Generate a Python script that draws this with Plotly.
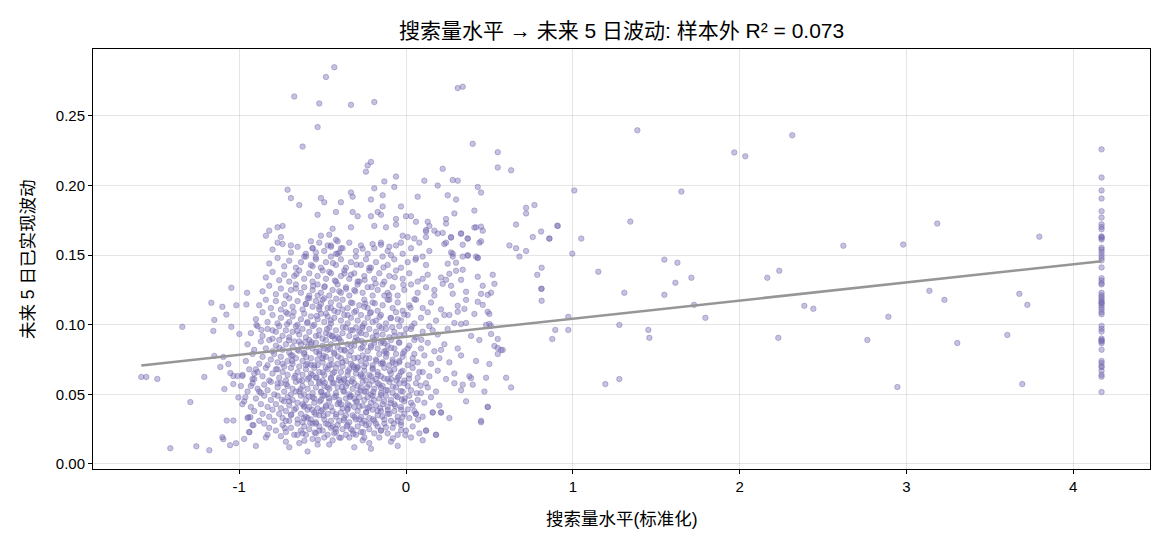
import plotly.graph_objects as go

# ---------------- data ----------------
# left fringe of the cloud
cloud_left_fringe = [
    (-1.587, 0.0625), (-1.557, 0.0625), (-1.491, 0.0611), (-1.341, 0.0985), (-1.293, 0.0445),
    (-1.209, 0.0625), (-1.167, 0.1158), (-1.149, 0.1035), (-1.155, 0.0956), (-1.149, 0.0776),
    (-1.101, 0.1129), (-1.095, 0.0769), (-1.113, 0.0697), (-1.077, 0.1073), (-1.065, 0.0718),
    (-1.047, 0.1266), (-1.047, 0.0985), (-1.053, 0.0653), (-1.035, 0.0632), (-1.011, 0.0632),
    (-0.981, 0.0632), (-1.017, 0.1140), (-0.957, 0.1146), (-0.953, 0.1230), (-0.999, 0.0934),
    (-0.897, 0.0999), (-0.867, 0.0963), (-1.089, 0.0538), (-1.035, 0.0574), (-1.005, 0.0478),
    (-0.963, 0.0480), (-0.981, 0.0430), (-0.945, 0.0336), (-0.933, 0.0336), (-1.075, 0.0312),
    (-1.035, 0.0312), (-0.915, 0.0279), (-0.939, 0.0228), (-1.101, 0.0192), (-1.095, 0.0178),
    (-1.055, 0.0135), (-1.019, 0.0149), (-1.413, 0.0113), (-1.257, 0.0127), (-1.179, 0.0099),
    (-0.930, 0.0560), (-0.920, 0.0610), (-0.900, 0.0680), (-0.880, 0.0520), (-0.910, 0.0650),
]

# upper part of the cloud
cloud_upper = [
    (-0.43, 0.285), (-0.48, 0.278), (-0.67, 0.264), (-0.52, 0.259), (-0.33, 0.258), (-0.19, 0.260),
    (0.31, 0.270), (0.34, 0.271), (-0.53, 0.242), (-0.62, 0.228), (0.40, 0.230), (0.55, 0.224),
    (0.55, 0.213), (0.63, 0.211), (-0.21, 0.217), (-0.23, 0.2145), (-0.24, 0.210), (0.22, 0.212),
    (-0.13, 0.203), (-0.06, 0.2065), (-0.07, 0.199), (0.11, 0.2035), (0.19, 0.200), (0.28, 0.204),
    (0.31, 0.2035), (0.43, 0.199), (0.45, 0.195), (-0.71, 0.197), (-0.69, 0.191), (-0.64, 0.186),
    (-0.51, 0.191), (-0.49, 0.188), (-0.39, 0.188), (-0.33, 0.195), (-0.32, 0.192), (-0.19, 0.198),
    (-0.21, 0.190), (-0.14, 0.193), (-0.14, 0.185), (-0.53, 0.179), (-0.42, 0.181), (-0.32, 0.181),
    (-0.29, 0.178), (-0.21, 0.178), (-0.15, 0.179), (-0.17, 0.181), (-0.03, 0.185), (0.07, 0.192),
    (0.25, 0.193), (0.30, 0.190), (0.29, 0.180), (0.41, 0.182), (0.72, 0.184), (0.77, 0.186),
    (0.72, 0.180), (0.66, 0.172), (0.91, 0.171), (0.81, 0.167), (0.76, 0.163), (0.86, 0.162),
    (0.62, 0.157), (0.66, 0.155), (0.72, 0.153), (0.68, 0.149), (0.00, 0.178), (0.03, 0.178),
    (0.06, 0.174), (-0.84, 0.164), (-0.82, 0.1676), (-0.77, 0.170), (-0.74, 0.171), (-0.75, 0.163),
    (-0.77, 0.159), (-0.69, 0.157), (-0.61, 0.149), (-0.57, 0.160), (-0.56, 0.155), (-0.54, 0.152),
    (-0.51, 0.164), (-0.46, 0.1647), (-0.44, 0.169), (-0.47, 0.157), (-0.45, 0.156), (-0.42, 0.161),
    (-0.41, 0.160), (-0.39, 0.155), (-0.42, 0.151), (-0.33, 0.170), (-0.19, 0.171), (-0.12, 0.170),
    (-0.26, 0.1547), (-0.20, 0.158), (-0.15, 0.1575), (-0.10, 0.156), (-0.09, 0.150), (-0.06, 0.176),
    (-0.06, 0.172), (-0.03, 0.159), (-0.02, 0.164), (0.01, 0.163), (0.05, 0.162), (0.10, 0.149),
    (0.12, 0.168), (0.13, 0.174), (0.14, 0.171), (0.12, 0.167), (0.12, 0.163), (0.17, 0.1676),
    (0.19, 0.1655), (0.22, 0.166), (0.24, 0.1727), (0.24, 0.176), (0.27, 0.163), (0.33, 0.1655),
    (0.34, 0.1575), (0.37, 0.162), (0.42, 0.170), (0.45, 0.160), (0.45, 0.1705), (0.46, 0.1676),
    (0.44, 0.159), (0.23, 0.158), (0.27, 0.152), (0.28, 0.149), (0.37, 0.150), (0.42, 0.149),
    (0.43, 0.148), (0.34, 0.149), (0.41, 0.1698), (0.27, 0.1626), (0.37, 0.1619), (0.33, 0.1655),
]

# dense body of the cloud, bottom half
cloud_body_low = [
    (-0.97, 0.018), (-0.90, 0.013), (-0.84, 0.019), (-0.72, 0.016), (-0.70, 0.012), (-0.64, 0.015),
    (-0.59, 0.009), (-0.56, 0.018), (-0.53, 0.014), (-0.49, 0.019), (-0.46, 0.014), (-0.44, 0.017),
    (-0.40, 0.019), (-0.34, 0.019), (-0.31, 0.012), (-0.26, 0.017), (-0.22, 0.015), (-0.21, 0.011),
    (-0.16, 0.019), (-0.09, 0.016), (-0.05, 0.013), (0.03, 0.019), (0.10, 0.017),
    (-0.94, 0.023), (-0.92, 0.028), (-0.85, 0.029), (-0.83, 0.021), (-0.82, 0.026), (-0.78, 0.024),
    (-0.75, 0.020), (-0.74, 0.028), (-0.72, 0.023), (-0.69, 0.026), (-0.67, 0.021), (-0.65, 0.029),
    (-0.63, 0.024), (-0.61, 0.027), (-0.60, 0.021), (-0.58, 0.025), (-0.56, 0.029), (-0.54, 0.022),
    (-0.52, 0.027), (-0.50, 0.024), (-0.48, 0.029), (-0.47, 0.021), (-0.45, 0.026), (-0.42, 0.023),
    (-0.41, 0.028), (-0.38, 0.025), (-0.36, 0.021), (-0.35, 0.028), (-0.32, 0.024), (-0.30, 0.021),
    (-0.29, 0.027), (-0.27, 0.023), (-0.24, 0.028), (-0.22, 0.025), (-0.19, 0.022), (-0.17, 0.027),
    (-0.15, 0.024), (-0.13, 0.029), (-0.11, 0.022), (-0.08, 0.026), (-0.05, 0.021), (-0.03, 0.028),
    (0.00, 0.024), (0.04, 0.027), (0.08, 0.022), (0.12, 0.024), (0.18, 0.021), (0.45, 0.030),
    (-0.95, 0.033), (-0.91, 0.038), (-0.88, 0.031), (-0.86, 0.036), (-0.82, 0.034), (-0.80, 0.039),
    (-0.79, 0.031), (-0.76, 0.036), (-0.74, 0.033), (-0.72, 0.038), (-0.70, 0.031), (-0.69, 0.035),
    (-0.67, 0.039), (-0.65, 0.032), (-0.63, 0.036), (-0.62, 0.030), (-0.60, 0.034), (-0.59, 0.039),
    (-0.57, 0.032), (-0.55, 0.037), (-0.54, 0.030), (-0.52, 0.035), (-0.50, 0.039), (-0.49, 0.032),
    (-0.47, 0.036), (-0.45, 0.031), (-0.44, 0.038), (-0.42, 0.034), (-0.40, 0.031), (-0.39, 0.037),
    (-0.37, 0.033), (-0.35, 0.039), (-0.34, 0.030), (-0.32, 0.035), (-0.30, 0.032), (-0.29, 0.038),
    (-0.27, 0.034), (-0.25, 0.031), (-0.24, 0.037), (-0.22, 0.033), (-0.20, 0.039), (-0.19, 0.031),
    (-0.17, 0.035), (-0.15, 0.038), (-0.13, 0.032), (-0.11, 0.036), (-0.09, 0.031), (-0.07, 0.038),
    (-0.05, 0.034), (-0.03, 0.030), (-0.01, 0.036), (0.02, 0.033), (0.05, 0.038), (0.06, 0.036),
    (0.10, 0.034), (0.16, 0.037), (0.21, 0.037), (0.26, 0.033), (0.49, 0.041),
    (-0.97, 0.045), (-0.93, 0.041), (-0.90, 0.047), (-0.87, 0.043), (-0.85, 0.049), (-0.83, 0.041),
    (-0.81, 0.046), (-0.78, 0.043), (-0.77, 0.049), (-0.75, 0.040), (-0.73, 0.045), (-0.71, 0.048),
    (-0.70, 0.042), (-0.68, 0.046), (-0.66, 0.040), (-0.65, 0.044), (-0.63, 0.049), (-0.61, 0.042),
    (-0.60, 0.046), (-0.58, 0.041), (-0.56, 0.048), (-0.55, 0.044), (-0.53, 0.040), (-0.51, 0.046),
    (-0.50, 0.049), (-0.48, 0.042), (-0.46, 0.045), (-0.45, 0.041), (-0.43, 0.048), (-0.41, 0.043),
    (-0.40, 0.046), (-0.38, 0.040), (-0.36, 0.047), (-0.35, 0.043), (-0.33, 0.049), (-0.31, 0.041),
    (-0.30, 0.045), (-0.28, 0.048), (-0.26, 0.042), (-0.25, 0.046), (-0.23, 0.040), (-0.21, 0.044),
    (-0.20, 0.049), (-0.18, 0.042), (-0.16, 0.047), (-0.14, 0.043), (-0.12, 0.049), (-0.11, 0.041),
    (-0.09, 0.046), (-0.07, 0.043), (-0.05, 0.048), (-0.03, 0.041), (-0.01, 0.045), (0.02, 0.049),
    (0.04, 0.042), (0.07, 0.046), (0.11, 0.044), (0.15, 0.048), (0.20, 0.042), (0.36, 0.045),
    (-0.99, 0.056), (-0.95, 0.052), (-0.92, 0.058), (-0.89, 0.054), (-0.87, 0.051), (-0.85, 0.057),
    (-0.83, 0.053), (-0.81, 0.059), (-0.79, 0.050), (-0.77, 0.055), (-0.75, 0.058), (-0.73, 0.052),
    (-0.71, 0.056), (-0.69, 0.050), (-0.68, 0.054), (-0.66, 0.059), (-0.64, 0.052), (-0.62, 0.056),
    (-0.61, 0.050), (-0.59, 0.054), (-0.57, 0.058), (-0.56, 0.051), (-0.54, 0.055), (-0.52, 0.059),
    (-0.51, 0.052), (-0.49, 0.056), (-0.47, 0.050), (-0.46, 0.054), (-0.44, 0.058), (-0.42, 0.051),
    (-0.41, 0.055), (-0.39, 0.059), (-0.37, 0.052), (-0.36, 0.056), (-0.34, 0.050), (-0.32, 0.054),
    (-0.31, 0.058), (-0.29, 0.051), (-0.27, 0.055), (-0.26, 0.059), (-0.24, 0.052), (-0.22, 0.057),
    (-0.21, 0.050), (-0.19, 0.054), (-0.17, 0.058), (-0.15, 0.051), (-0.14, 0.056), (-0.12, 0.053),
    (-0.10, 0.059), (-0.08, 0.051), (-0.06, 0.055), (-0.04, 0.058), (-0.02, 0.052), (0.01, 0.056),
    (0.03, 0.053), (0.06, 0.058), (0.09, 0.051), (0.13, 0.055), (0.18, 0.052), (0.29, 0.058),
    (0.33, 0.053), (0.34, 0.057), (0.40, 0.057), (0.47, 0.052), (0.63, 0.055),
]

# dense body of the cloud, middle
cloud_body_mid = [
    (-0.98, 0.064), (-0.94, 0.068), (-0.91, 0.061), (-0.89, 0.066), (-0.86, 0.063), (-0.84, 0.069),
    (-0.82, 0.060), (-0.80, 0.065), (-0.78, 0.068), (-0.76, 0.062), (-0.74, 0.066), (-0.72, 0.060),
    (-0.71, 0.064), (-0.69, 0.069), (-0.67, 0.062), (-0.65, 0.066), (-0.64, 0.060), (-0.62, 0.064),
    (-0.60, 0.068), (-0.59, 0.061), (-0.57, 0.065), (-0.55, 0.069), (-0.54, 0.062), (-0.52, 0.066),
    (-0.50, 0.060), (-0.49, 0.064), (-0.47, 0.068), (-0.45, 0.061), (-0.44, 0.065), (-0.42, 0.069),
    (-0.40, 0.062), (-0.39, 0.066), (-0.37, 0.060), (-0.35, 0.064), (-0.34, 0.068), (-0.32, 0.061),
    (-0.30, 0.065), (-0.29, 0.069), (-0.27, 0.063), (-0.25, 0.067), (-0.24, 0.060), (-0.22, 0.064),
    (-0.20, 0.068), (-0.18, 0.061), (-0.17, 0.066), (-0.15, 0.063), (-0.13, 0.069), (-0.11, 0.061),
    (-0.09, 0.065), (-0.07, 0.068), (-0.05, 0.062), (-0.03, 0.066), (-0.01, 0.060), (0.02, 0.064),
    (0.04, 0.069), (0.07, 0.062), (0.10, 0.066), (0.14, 0.063), (0.19, 0.067), (0.24, 0.061),
    (0.29, 0.065), (0.38, 0.063), (0.39, 0.0617), (0.48, 0.062), (0.60, 0.062),
    (-0.96, 0.074), (-0.92, 0.079), (-0.88, 0.072), (-0.86, 0.077), (-0.83, 0.071), (-0.81, 0.075),
    (-0.79, 0.079), (-0.77, 0.073), (-0.75, 0.077), (-0.73, 0.070), (-0.71, 0.074), (-0.69, 0.078),
    (-0.68, 0.072), (-0.66, 0.076), (-0.64, 0.070), (-0.62, 0.074), (-0.61, 0.079), (-0.59, 0.072),
    (-0.57, 0.076), (-0.55, 0.071), (-0.53, 0.075), (-0.52, 0.079), (-0.50, 0.073), (-0.48, 0.077),
    (-0.46, 0.071), (-0.45, 0.075), (-0.43, 0.079), (-0.41, 0.072), (-0.39, 0.076), (-0.38, 0.070),
    (-0.36, 0.074), (-0.34, 0.078), (-0.33, 0.072), (-0.31, 0.076), (-0.29, 0.070), (-0.27, 0.074),
    (-0.26, 0.078), (-0.24, 0.072), (-0.22, 0.076), (-0.20, 0.071), (-0.18, 0.075), (-0.16, 0.079),
    (-0.14, 0.073), (-0.12, 0.077), (-0.10, 0.071), (-0.08, 0.075), (-0.06, 0.079), (-0.04, 0.073),
    (-0.02, 0.077), (0.01, 0.071), (0.04, 0.076), (0.07, 0.073), (0.11, 0.078), (0.15, 0.072),
    (0.20, 0.076), (0.26, 0.073), (0.33, 0.078), (0.42, 0.074), (0.50, 0.0718), (0.55, 0.079),
    (-0.95, 0.086), (-0.91, 0.082), (-0.87, 0.088), (-0.84, 0.083), (-0.82, 0.089), (-0.80, 0.081),
    (-0.78, 0.085), (-0.76, 0.089), (-0.74, 0.082), (-0.72, 0.086), (-0.70, 0.080), (-0.68, 0.084),
    (-0.67, 0.088), (-0.65, 0.082), (-0.63, 0.086), (-0.61, 0.080), (-0.59, 0.084), (-0.58, 0.089),
    (-0.56, 0.083), (-0.54, 0.087), (-0.52, 0.081), (-0.50, 0.085), (-0.48, 0.089), (-0.47, 0.082),
    (-0.45, 0.086), (-0.43, 0.080), (-0.41, 0.084), (-0.39, 0.088), (-0.37, 0.082), (-0.35, 0.086),
    (-0.33, 0.081), (-0.31, 0.085), (-0.29, 0.089), (-0.27, 0.083), (-0.25, 0.087), (-0.23, 0.081),
    (-0.21, 0.085), (-0.19, 0.089), (-0.17, 0.083), (-0.15, 0.087), (-0.13, 0.081), (-0.11, 0.085),
    (-0.09, 0.089), (-0.07, 0.083), (-0.04, 0.087), (-0.01, 0.081), (0.02, 0.085), (0.05, 0.089),
    (0.09, 0.083), (0.13, 0.087), (0.17, 0.081), (0.23, 0.086), (0.31, 0.083), (0.44, 0.089),
    (0.53, 0.0848), (0.55, 0.0833), (0.57, 0.0819), (0.58, 0.0819),
    (-0.93, 0.094), (-0.89, 0.099), (-0.86, 0.092), (-0.83, 0.097), (-0.80, 0.090), (-0.78, 0.095),
    (-0.76, 0.099), (-0.74, 0.092), (-0.72, 0.096), (-0.70, 0.091), (-0.68, 0.095), (-0.66, 0.099),
    (-0.64, 0.093), (-0.62, 0.097), (-0.60, 0.091), (-0.58, 0.095), (-0.56, 0.099), (-0.54, 0.092),
    (-0.52, 0.096), (-0.50, 0.090), (-0.48, 0.094), (-0.46, 0.098), (-0.44, 0.092), (-0.42, 0.096),
    (-0.40, 0.090), (-0.38, 0.094), (-0.36, 0.098), (-0.34, 0.092), (-0.32, 0.096), (-0.30, 0.091),
    (-0.28, 0.095), (-0.26, 0.099), (-0.24, 0.093), (-0.22, 0.097), (-0.20, 0.091), (-0.18, 0.095),
    (-0.16, 0.099), (-0.14, 0.093), (-0.12, 0.097), (-0.10, 0.091), (-0.07, 0.095), (-0.04, 0.099),
    (-0.01, 0.093), (0.03, 0.097), (0.06, 0.091), (0.10, 0.095), (0.14, 0.099), (0.19, 0.093),
    (0.25, 0.097), (0.39, 0.092), (0.51, 0.0934), (0.55, 0.0898), (0.48, 0.0999),
]

# dense body of the cloud, upper half
cloud_body_high = [
    (-0.90, 0.104), (-0.86, 0.109), (-0.83, 0.102), (-0.80, 0.107), (-0.77, 0.101), (-0.75, 0.105),
    (-0.72, 0.109), (-0.70, 0.102), (-0.68, 0.106), (-0.65, 0.100), (-0.63, 0.104), (-0.61, 0.108),
    (-0.59, 0.102), (-0.57, 0.106), (-0.55, 0.100), (-0.53, 0.104), (-0.51, 0.108), (-0.49, 0.102),
    (-0.47, 0.106), (-0.45, 0.101), (-0.43, 0.105), (-0.41, 0.109), (-0.39, 0.103), (-0.37, 0.107),
    (-0.35, 0.101), (-0.33, 0.105), (-0.31, 0.109), (-0.29, 0.103), (-0.27, 0.107), (-0.25, 0.101),
    (-0.23, 0.105), (-0.21, 0.109), (-0.18, 0.103), (-0.15, 0.107), (-0.12, 0.101), (-0.09, 0.105),
    (-0.06, 0.109), (-0.03, 0.103), (0.01, 0.107), (0.05, 0.101), (0.09, 0.105), (0.13, 0.109),
    (0.18, 0.103), (0.23, 0.107), (0.29, 0.1013), (0.31, 0.1093), (0.33, 0.1006), (0.35, 0.1114),
    (0.36, 0.1013), (0.41, 0.1078), (0.49, 0.1093), (0.50, 0.1078), (0.50, 0.1006), (0.51, 0.0992),
    (-0.88, 0.114), (-0.84, 0.118), (-0.81, 0.112), (-0.78, 0.117), (-0.75, 0.111), (-0.73, 0.115),
    (-0.70, 0.119), (-0.68, 0.113), (-0.65, 0.117), (-0.62, 0.111), (-0.60, 0.115), (-0.58, 0.119),
    (-0.56, 0.113), (-0.54, 0.117), (-0.52, 0.111), (-0.51, 0.115), (-0.49, 0.119), (-0.47, 0.112),
    (-0.45, 0.116), (-0.43, 0.110), (-0.40, 0.114), (-0.38, 0.118), (-0.35, 0.112), (-0.33, 0.116),
    (-0.30, 0.110), (-0.28, 0.114), (-0.25, 0.118), (-0.23, 0.112), (-0.20, 0.116), (-0.17, 0.110),
    (-0.14, 0.114), (-0.11, 0.118), (-0.08, 0.112), (-0.05, 0.116), (-0.02, 0.110), (0.02, 0.114),
    (0.06, 0.118), (0.10, 0.112), (0.15, 0.116), (0.21, 0.111), (0.31, 0.1136), (0.36, 0.1179),
    (0.43, 0.1165), (0.46, 0.1143),
    (-0.86, 0.124), (-0.82, 0.128), (-0.78, 0.122), (-0.75, 0.126), (-0.72, 0.121), (-0.69, 0.125),
    (-0.66, 0.129), (-0.63, 0.123), (-0.61, 0.127), (-0.58, 0.121), (-0.56, 0.125), (-0.53, 0.129),
    (-0.51, 0.123), (-0.49, 0.127), (-0.46, 0.121), (-0.44, 0.125), (-0.41, 0.129), (-0.39, 0.123),
    (-0.36, 0.127), (-0.34, 0.121), (-0.31, 0.125), (-0.29, 0.129), (-0.26, 0.123), (-0.23, 0.127),
    (-0.20, 0.121), (-0.17, 0.125), (-0.14, 0.129), (-0.11, 0.123), (-0.08, 0.127), (-0.05, 0.121),
    (-0.01, 0.125), (0.03, 0.129), (0.07, 0.123), (0.12, 0.127), (0.17, 0.121), (0.22, 0.1294),
    (0.27, 0.128), (0.28, 0.1222), (0.36, 0.1237), (0.45, 0.1222), (0.46, 0.128), (0.49, 0.1215),
    (0.51, 0.123), (0.53, 0.1294),
    (-0.84, 0.134), (-0.80, 0.138), (-0.76, 0.132), (-0.73, 0.136), (-0.70, 0.131), (-0.67, 0.135),
    (-0.64, 0.139), (-0.61, 0.133), (-0.58, 0.137), (-0.56, 0.131), (-0.53, 0.135), (-0.50, 0.139),
    (-0.48, 0.133), (-0.45, 0.137), (-0.42, 0.131), (-0.39, 0.135), (-0.37, 0.139), (-0.34, 0.133),
    (-0.31, 0.137), (-0.28, 0.131), (-0.25, 0.135), (-0.22, 0.139), (-0.19, 0.133), (-0.16, 0.137),
    (-0.13, 0.131), (-0.10, 0.135), (-0.06, 0.139), (-0.02, 0.133), (0.02, 0.137), (0.07, 0.131),
    (0.13, 0.136), (0.21, 0.134), (0.24, 0.1323), (0.26, 0.1366), (0.30, 0.1388), (0.33, 0.1323),
    (0.34, 0.1395), (0.43, 0.1345), (0.52, 0.1359),
    (-0.82, 0.144), (-0.77, 0.148), (-0.73, 0.142), (-0.70, 0.146), (-0.66, 0.141), (-0.63, 0.145),
    (-0.60, 0.149), (-0.57, 0.143), (-0.54, 0.147), (-0.51, 0.141), (-0.48, 0.145), (-0.45, 0.149),
    (-0.42, 0.143), (-0.39, 0.147), (-0.36, 0.141), (-0.33, 0.145), (-0.30, 0.149), (-0.27, 0.143),
    (-0.24, 0.147), (-0.21, 0.141), (-0.18, 0.145), (-0.14, 0.149), (-0.11, 0.143), (-0.07, 0.147),
    (-0.03, 0.141), (0.01, 0.145), (0.06, 0.148), (0.12, 0.143), (0.25, 0.1439), (0.30, 0.1446),
    (0.28, 0.151), (0.37, 0.1496), (0.43, 0.1482),
    (-0.80, 0.154), (-0.74, 0.158), (-0.69, 0.152), (-0.65, 0.156), (-0.60, 0.151), (-0.56, 0.155),
    (-0.52, 0.159), (-0.49, 0.153), (-0.45, 0.157), (-0.41, 0.151), (-0.38, 0.155), (-0.34, 0.159),
    (-0.30, 0.153), (-0.27, 0.157), (-0.23, 0.151), (-0.19, 0.155), (-0.15, 0.159), (-0.11, 0.153),
    (-0.06, 0.157), (-0.02, 0.151), (0.03, 0.155), (0.08, 0.159), (0.14, 0.153), (0.24, 0.159),
]

# extra points where the cloud is densest
cloud_core = [
    (-0.58, 0.062), (-0.55, 0.047), (-0.53, 0.071), (-0.51, 0.038), (-0.49, 0.083), (-0.47, 0.055),
    (-0.44, 0.027), (-0.43, 0.066), (-0.41, 0.091), (-0.40, 0.044), (-0.38, 0.073), (-0.36, 0.035),
    (-0.35, 0.058), (-0.33, 0.085), (-0.31, 0.047), (-0.30, 0.068), (-0.28, 0.032), (-0.27, 0.094),
    (-0.25, 0.052), (-0.24, 0.076), (-0.22, 0.041), (-0.21, 0.063), (-0.19, 0.087), (-0.18, 0.029),
    (-0.16, 0.057), (-0.15, 0.072), (-0.13, 0.045), (-0.12, 0.081), (-0.10, 0.036), (-0.09, 0.061),
    (-0.07, 0.092), (-0.06, 0.049), (-0.04, 0.074), (-0.03, 0.039), (-0.01, 0.058), (0.01, 0.083),
    (-0.57, 0.086), (-0.54, 0.029), (-0.52, 0.058), (-0.50, 0.076), (-0.48, 0.041), (-0.46, 0.093),
    (-0.45, 0.062), (-0.42, 0.049), (-0.39, 0.082), (-0.37, 0.061), (-0.34, 0.042), (-0.32, 0.071),
    (-0.29, 0.056), (-0.26, 0.084), (-0.23, 0.048), (-0.20, 0.069), (-0.17, 0.038), (-0.14, 0.088),
    (-0.11, 0.053), (-0.08, 0.073), (-0.05, 0.031), (-0.02, 0.067), (-0.62, 0.043), (-0.60, 0.071),
    (-0.59, 0.033), (-0.56, 0.064), (-0.66, 0.052), (-0.68, 0.078), (-0.64, 0.088), (-0.70, 0.045),
    (-0.35, 0.107), (-0.30, 0.098), (-0.25, 0.113), (-0.20, 0.102), (-0.45, 0.112), (-0.50, 0.118),
    (-0.52, 0.113), (-0.48, 0.108), (-0.53, 0.121), (-0.40, 0.124), (-0.33, 0.136), (-0.29, 0.131),
    (-0.10, 0.118), (-0.05, 0.104), (0.00, 0.097), (0.05, 0.079), (0.08, 0.066), (0.12, 0.058),
    (0.03, 0.044), (-0.15, 0.024), (-0.25, 0.019), (-0.33, 0.025), (-0.43, 0.022), (-0.52, 0.024),
    (-0.62, 0.022), (-0.72, 0.031), (-0.77, 0.058), (-0.74, 0.072), (-0.80, 0.096), (-0.71, 0.108),
    (-0.66, 0.126), (-0.56, 0.142), (-0.46, 0.138), (-0.40, 0.152), (-0.22, 0.141), (-0.13, 0.121),
    (0.10, 0.133), (0.17, 0.125), (0.16, 0.096), (0.21, 0.082), (0.26, 0.107), (0.45, 0.031),
    (0.16, 0.037), (0.21, 0.037), (0.06, 0.036), (0.12, 0.024), (0.18, 0.021), (0.49, 0.041),
]

# more points in the core, read at finer spacing
cloud_core_fine = [
    (-0.612, 0.0412), (-0.487, 0.0583), (-0.355, 0.0271), (-0.271, 0.0644), (-0.148, 0.0495),
    (-0.062, 0.0718), (-0.538, 0.0806), (-0.419, 0.0357), (-0.306, 0.0882), (-0.197, 0.0321),
    (-0.091, 0.0437), (0.018, 0.0612), (-0.664, 0.0634), (-0.575, 0.0295), (-0.462, 0.0473),
    (-0.348, 0.0665), (-0.233, 0.0552), (-0.117, 0.0793), (-0.021, 0.0337), (-0.702, 0.0889),
    (-0.593, 0.1012), (-0.444, 0.0918), (-0.381, 0.1109), (-0.262, 0.0978), (-0.158, 0.1057),
    (-0.043, 0.0874), (0.064, 0.0509), (-0.528, 0.0175), (-0.391, 0.0189), (-0.279, 0.0412),
    (-0.169, 0.0641), (-0.073, 0.0291), (-0.632, 0.0537), (-0.517, 0.0449), (-0.402, 0.0603),
    (-0.289, 0.0765), (-0.176, 0.0923), (-0.057, 0.0599), (0.041, 0.0728), (-0.745, 0.0462),
    (-0.688, 0.0356), (-0.571, 0.0713), (-0.456, 0.0826), (-0.337, 0.0482), (-0.223, 0.0287),
    (-0.109, 0.0388), (-0.008, 0.0471), (-0.651, 0.0956), (-0.535, 0.1063), (-0.418, 0.1187),
    (-0.304, 0.1241), (-0.187, 0.1154), (-0.083, 0.0982), (0.092, 0.0892), (-0.727, 0.0258),
    (-0.609, 0.0167), (-0.493, 0.0347), (-0.376, 0.0524), (-0.257, 0.0229), (-0.142, 0.0342),
    (-0.031, 0.0524), (-0.562, 0.0389), (-0.445, 0.0714), (-0.327, 0.0593), (-0.211, 0.0837),
    (-0.097, 0.0668), (0.011, 0.0392), (-0.683, 0.0741), (-0.566, 0.0874), (-0.451, 0.1031),
    (-0.332, 0.0961), (-0.216, 0.1083), (-0.101, 0.1213), (0.027, 0.1122), (-0.771, 0.0681),
    (-0.652, 0.0209), (-0.536, 0.0622), (-0.421, 0.0253), (-0.309, 0.0337), (-0.192, 0.0459),
    (-0.079, 0.0556), (-0.598, 0.0769), (-0.481, 0.0693), (-0.366, 0.0813), (-0.251, 0.0701),
    (-0.131, 0.0614), (-0.018, 0.0793), (-0.713, 0.1003), (-0.601, 0.1149), (-0.487, 0.1276),
    (-0.369, 0.1369), (-0.248, 0.1322), (-0.135, 0.1412), (-0.016, 0.1287), (-0.623, 0.0598),
    (-0.507, 0.0517), (-0.389, 0.0428), (-0.273, 0.0526), (-0.154, 0.0401), (-0.041, 0.0633),
    (0.072, 0.0319), (-0.547, 0.0226), (-0.433, 0.0581), (-0.316, 0.0217), (-0.202, 0.0598),
    (-0.089, 0.0834), (0.034, 0.0988), (-0.759, 0.0834), (-0.642, 0.0813), (-0.523, 0.0925),
    (-0.408, 0.0773), (-0.294, 0.0445), (-0.178, 0.0739), (-0.064, 0.0417), (-0.581, 0.0484),
    (-0.467, 0.0283), (-0.351, 0.0398), (-0.238, 0.0373), (-0.121, 0.0264), (-0.004, 0.0207),
    (-0.674, 0.1092), (-0.557, 0.1278), (-0.438, 0.1443), (-0.321, 0.1156), (-0.206, 0.1271),
    (-0.093, 0.1047), (0.051, 0.1183), (-0.499, 0.0657), (-0.383, 0.0553), (-0.266, 0.0883),
    (-0.149, 0.0546), (-0.036, 0.0926), (-0.611, 0.0328), (-0.495, 0.0778), (-0.379, 0.0982),
    (-0.263, 0.0294), (-0.147, 0.0976), (-0.029, 0.0243), (-0.718, 0.0573), (-0.604, 0.0876),
    (-0.489, 0.0492), (-0.373, 0.0314), (-0.258, 0.0627), (-0.139, 0.0722), (-0.026, 0.0463),
    (0.087, 0.0562), (-0.542, 0.0356), (-0.427, 0.0898), (-0.312, 0.0694), (-0.196, 0.0518),
    (-0.079, 0.0184), (-0.589, 0.1191), (-0.473, 0.0969), (-0.359, 0.1258), (-0.244, 0.1152),
    (-0.129, 0.0867), (-0.011, 0.1074), (-0.657, 0.1364), (-0.541, 0.1483), (-0.426, 0.1318),
    (-0.297, 0.1432), (-0.182, 0.1297), (-0.067, 0.1342), (0.057, 0.1467),
]

# sparse points to the right of the cloud
tail_right = [
    (1.387, 0.2397), (1.968, 0.2238), (2.034, 0.2210), (2.316, 0.2361), (1.009, 0.1965),
    (1.651, 0.1957), (1.345, 0.1741), (0.907, 0.1712), (3.185, 0.1727), (0.859, 0.1619),
    (1.051, 0.1619), (2.622, 0.1568), (2.981, 0.1576), (3.797, 0.1633), (0.997, 0.1511),
    (0.813, 0.1410), (1.153, 0.1381), (1.549, 0.1468), (1.627, 0.1446), (1.711, 0.1338),
    (1.615, 0.1302), (2.238, 0.1388), (2.166, 0.1338), (0.813, 0.1259), (0.813, 0.1172),
    (1.309, 0.1230), (1.549, 0.1215), (1.727, 0.1143), (1.795, 0.1050), (0.973, 0.1057),
    (0.895, 0.0963), (0.973, 0.0963), (0.877, 0.0898), (1.279, 0.0999), (1.453, 0.0963),
    (1.459, 0.0906), (2.388, 0.1136), (2.442, 0.1115), (2.232, 0.0906), (2.892, 0.1057),
    (2.766, 0.0891), (3.138, 0.1244), (3.228, 0.1179), (3.305, 0.0869), (3.605, 0.0927),
    (3.677, 0.1222), (3.725, 0.1143), (3.695, 0.0574), (2.946, 0.0553), (1.195, 0.0574),
    (1.279, 0.0610), (0.811, 0.1258), (0.787, 0.1359),
]

# points that sit at the capped search level
cap_level = 4.17
capped_vol = [
    0.2260, 0.2058, 0.1965, 0.1907, 0.1816, 0.1770, 0.1722, 0.1703, 0.1686, 0.1635, 0.1623,
    0.1612, 0.1630, 0.1554, 0.1540, 0.1522, 0.1501, 0.1482, 0.1463, 0.1412, 0.1335, 0.1318,
    0.1299, 0.1290, 0.1230, 0.1213, 0.1198, 0.1184, 0.1169, 0.1155, 0.1143, 0.1126, 0.1110,
    0.1090, 0.1076, 0.1160, 0.0992, 0.0970, 0.0951, 0.0901, 0.0891, 0.0879, 0.0867, 0.0821,
    0.0740, 0.0725, 0.0704, 0.0670, 0.0641, 0.0627, 0.0517, 0.0885, 0.0695,
]

# fitted regression line
fit_intercept = 0.0914
fit_slope = 0.0130

title_text = "搜索量水平 → 未来 5 日波动: 样本外 R² = 0.073"
x_title = "搜索量水平(标准化)"
y_title = "未来 5 日已实现波动"
x_ticks = [-1, 0, 1, 2, 3, 4]
x_tick_labels = ["-1", "0", "1", "2", "3", "4"]
y_ticks = [0.0, 0.05, 0.10, 0.15, 0.20, 0.25]
y_tick_labels = ["0.00", "0.05", "0.10", "0.15", "0.20", "0.25"]

# ---------------- assemble ----------------
groups = [cloud_left_fringe, cloud_upper, cloud_body_low, cloud_body_mid,
          cloud_body_high, cloud_core, cloud_core_fine, tail_right]
xs, ys = [], []
for g in groups:
    for px, py in g:
        xs.append(px)
        ys.append(py)
for v in capped_vol:
    xs.append(cap_level)
    ys.append(v)

x_min, x_max = min(xs), max(xs)
line_x = [x_min, x_max]
line_y = [fit_intercept + fit_slope * v for v in line_x]

FONT = "Liberation Sans, Arial, Noto Sans CJK SC, sans-serif"
PURPLE = "rgba(117,107,177,0.42)"

fig = go.Figure()
fig.add_trace(go.Scatter(
    x=xs, y=ys, mode="markers",
    marker=dict(size=5.5, color=PURPLE, line=dict(color=PURPLE, width=1)),
    hoverinfo="skip", showlegend=False,
))
fig.add_trace(go.Scatter(
    x=line_x, y=line_y, mode="lines",
    line=dict(color="rgb(150,150,150)", width=2.5),
    hoverinfo="skip", showlegend=False,
))

axis_common = dict(
    showline=True, linecolor="black", linewidth=1, mirror=True,
    ticks="outside", ticklen=4, tickcolor="black", tickwidth=1,
    showgrid=True, gridcolor="rgba(0,0,0,0.1)", gridwidth=1,
    zeroline=False, tickfont=dict(family=FONT, size=15, color="black"),
)

fig.update_layout(
    width=1170, height=546,
    margin=dict(l=93, r=20, t=49, b=77),
    paper_bgcolor="white", plot_bgcolor="white",
    font=dict(family=FONT, color="black"),
    title=dict(text=title_text, x=0.5313, xanchor="center", y=1 - 31 / 546,
               yanchor="middle", yref="container",
               font=dict(family=FONT, size=21, color="black")),
    xaxis=dict(range=[-1.8765, 4.4604], tickvals=x_ticks, ticktext=x_tick_labels, **axis_common),
    yaxis=dict(range=[-0.0036, 0.2981], tickvals=y_ticks, ticktext=y_tick_labels, **axis_common),
    annotations=[
        dict(text=x_title, xref="paper", yref="paper", x=0.5, y=-(519 - 469) / 420,
             xanchor="center", yanchor="middle", showarrow=False,
             font=dict(family=FONT, size=17.5, color="black")),
        dict(text=y_title, xref="paper", yref="paper", x=-(93 - 28) / 1057, y=(469 - 260) / 420,
             xanchor="center", yanchor="middle", showarrow=False, textangle=-90,
             font=dict(family=FONT, size=17.5, color="black")),
    ],
)

fig.write_html("out.html")
